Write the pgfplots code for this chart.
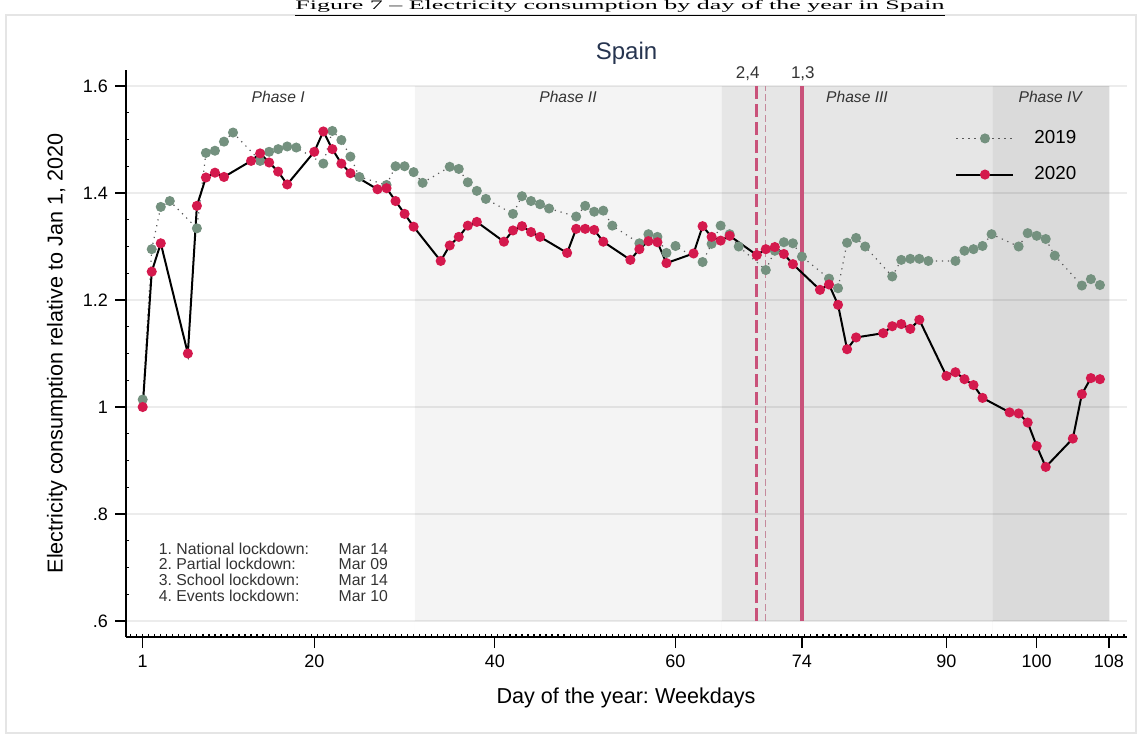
\documentclass[border=0pt]{standalone}
\usepackage{pgfplots}
\usepackage{pgfplotstable}
\pgfplotsset{compat=1.18}
\usepackage{fontspec}
\setmainfont{Liberation Sans}
\newfontfamily\capfont{Liberation Serif}
\frenchspacing
\definecolor{c2020}{HTML}{D4194D}
\definecolor{c2019}{HTML}{74917F}
\definecolor{vline}{HTML}{C9527A}
\definecolor{vthin}{HTML}{C58A9C}
\definecolor{phtwo}{HTML}{F4F4F4}
\definecolor{phthree}{HTML}{E6E6E6}
\definecolor{phfour}{HTML}{DADADA}
\definecolor{titlec}{HTML}{26344F}
\definecolor{txt}{HTML}{333333}

\pgfplotstableread{
d v
1 1.014
2 1.295
3 1.374
4 1.385
7 1.334
8 1.475
9 1.479
10 1.496
11 1.513
14 1.460
15 1.477
16 1.482
17 1.487
18 1.485
21 1.455
22 1.516
23 1.499
24 1.468
25 1.430
28 1.415
29 1.450
30 1.450
31 1.439
32 1.419
35 1.449
36 1.445
37 1.420
38 1.404
39 1.389
42 1.361
43 1.394
44 1.385
45 1.379
46 1.371
49 1.356
50 1.376
51 1.365
52 1.367
53 1.339
56 1.306
57 1.323
58 1.318
59 1.288
60 1.301
63 1.271
64 1.305
65 1.339
66 1.323
67 1.300
70 1.256
71 1.292
72 1.308
73 1.306
74 1.281
77 1.240
78 1.222
79 1.307
80 1.316
81 1.300
84 1.244
85 1.275
86 1.277
87 1.277
88 1.273
91 1.273
92 1.292
93 1.295
94 1.301
95 1.323
98 1.300
99 1.325
100 1.320
101 1.314
102 1.283
105 1.227
106 1.239
107 1.228
}\tabNineteen

\pgfplotstableread{
d v
1 1.000
2 1.253
3 1.306
6 1.100
7 1.376
8 1.429
9 1.438
10 1.430
13 1.460
14 1.474
15 1.457
16 1.440
17 1.416
20 1.477
21 1.515
22 1.482
23 1.455
24 1.437
27 1.407
28 1.409
29 1.385
30 1.361
31 1.337
34 1.273
35 1.302
36 1.318
37 1.339
38 1.346
41 1.309
42 1.330
43 1.338
44 1.327
45 1.318
48 1.288
49 1.333
50 1.333
51 1.331
52 1.309
55 1.275
56 1.295
57 1.310
58 1.308
59 1.269
62 1.287
63 1.338
64 1.318
65 1.311
66 1.320
69 1.284
70 1.295
71 1.299
72 1.286
73 1.267
76 1.219
77 1.229
78 1.191
79 1.108
80 1.130
83 1.138
84 1.151
85 1.155
86 1.146
87 1.163
90 1.058
91 1.065
92 1.052
93 1.041
94 1.017
97 0.990
98 0.988
99 0.971
100 0.927
101 0.888
104 0.941
105 1.024
106 1.054
107 1.052
}\tabTwenty

\begin{document}
\begin{tikzpicture}[x=0.5pt,y=0.5pt]
\draw[color=black!10, line width=0.6pt] (6,3) rectangle (1136,721);

\begin{axis}[
  set layers,
  at={(63pt,49.5pt)}, anchor=south west,
  scale only axis, width=500.5pt, height=283.5pt,
  xmin=-0.85, xmax=110, ymin=0.5701, ymax=1.6299,
  clip=false,
  axis lines=left,
  axis line style={-, line width=0.7pt, black},
  tick align=outside,
  major tick length=5.5pt, minor tick length=-1.6pt,
  every tick/.style={black, line width=0.6pt},
  xtick={1,20,40,60,74,90,100,108},
  minor xtick={-0.3333,0.3333,...,109.7},
  ytick={0.6,0.8,1,1.2,1.4,1.6},
  yticklabels={.6,.8,1,1.2,1.4,1.6},
  minor y tick num=3,
  /pgf/number format/assume math mode=true,
  ticklabel style={font=\fontsize{9}{10}\selectfont},
  ymajorgrids,
  major grid style={black, opacity=0.075, line width=1pt},
  legend style={draw=none, fill=none, at={(axis cs:90.96,1.5178)}, anchor=north west,
    inner sep=0pt, font=\fontsize{9.4}{11}\selectfont, row sep=10pt,
    cells={anchor=west}, nodes={inner sep=0pt},
    /tikz/every odd column/.append style={column sep=10pt}},
  legend image code/.code={\draw[mark repeat=2,mark phase=2] plot coordinates {(0pt,0pt) (14.25pt,0pt) (28.5pt,0pt)};},
]
% phase shading
\addplot[on layer=axis background, fill=phtwo, draw=none, forget plot] coordinates {(31.15,0.6) (65.1,0.6) (65.1,1.6) (31.15,1.6)} \closedcycle;
\addplot[on layer=axis background, fill=phthree, draw=none, forget plot] coordinates {(65.1,0.6) (95.1,0.6) (95.1,1.6) (65.1,1.6)} \closedcycle;
\addplot[on layer=axis background, fill=phfour, draw=none, forget plot] coordinates {(95.1,0.6) (108.05,0.6) (108.05,1.6) (95.1,1.6)} \closedcycle;
% event lines
\addplot[vline, line width=1.6pt, dash pattern=on 6.5pt off 2.5pt, forget plot] coordinates {(69,0.6) (69,1.6)};
\addplot[vthin, line width=0.5pt, dash pattern=on 3.5pt off 1.7pt, forget plot] coordinates {(70,0.6) (70,1.6)};
\addplot[vline, line width=1.6pt, forget plot] coordinates {(74,0.6) (74,1.6)};
% series
\addplot[black!65, line width=0.6pt, dash pattern=on 0.6pt off 2.4pt, mark=*, mark size=2.2pt,
  mark options={solid, fill=c2019, draw=c2019}] table[x=d, y=v] {\tabNineteen};
\addlegendentry{2019}
\addplot[black, line width=1pt, mark=*, mark size=2pt,
  mark options={solid, fill=c2020, draw=c2020}] table[x=d, y=v] {\tabTwenty};
\addlegendentry{2020}
% phase labels
\node[font=\itshape\fontsize{7.8}{9}\selectfont, text=txt] at (axis cs:16,1.5794) {Phase I};
\node[font=\itshape\fontsize{7.8}{9}\selectfont, text=txt] at (axis cs:48.1,1.5794) {Phase II};
\node[font=\itshape\fontsize{7.8}{9}\selectfont, text=txt] at (axis cs:80.1,1.5794) {Phase III};
\node[font=\itshape\fontsize{7.8}{9}\selectfont, text=txt] at (axis cs:101.5,1.5794) {Phase IV};
\node[font=\fontsize{8.5}{10}\selectfont, text=txt] at (axis cs:68,1.624) {2,4};
\node[font=\fontsize{8.5}{10}\selectfont, text=txt] at (axis cs:74.1,1.624) {1,3};
\end{axis}

% title and axis labels
\node[font=\fontsize{12}{14}\selectfont, text=titlec] at (626.5,683) {Spain};
\node[font=\fontsize{10.8}{12}\selectfont, rotate=90] at (57,382.5) {Electricity consumption relative to Jan 1, 2020};
\node[font=\fontsize{10.8}{12}\selectfont] at (626,38) {Day of the year: Weekdays};

% note box
\begin{scope}[every node/.style={anchor=base west, inner sep=0pt, font=\fontsize{7.9}{9}\selectfont, text=txt}]
\node at (158.5,182) {1. National lockdown:};
\node at (338.3,182) {Mar 14};
\node at (158.5,166.1) {2. Partial lockdown:};
\node at (338.3,166.1) {Mar 09};
\node at (158.5,150.2) {3. School lockdown:};
\node at (338.3,150.2) {Mar 14};
\node at (158.5,134.3) {4. Events lockdown:};
\node at (338.3,134.3) {Mar 10};
\end{scope}

% caption (shrunk so that it is fully on the page)
\node[anchor=base, inner sep=0pt] at (620,726.5)
  {\scalebox{2.0}[1]{\capfont\fontsize{6.5}{7}\selectfont\underline{Figure 7 – Electricity consumption by day of the year in Spain}}};

\pgfresetboundingbox
\path[use as bounding box] (0,0) rectangle (1140,736);
\end{tikzpicture}
\end{document}
